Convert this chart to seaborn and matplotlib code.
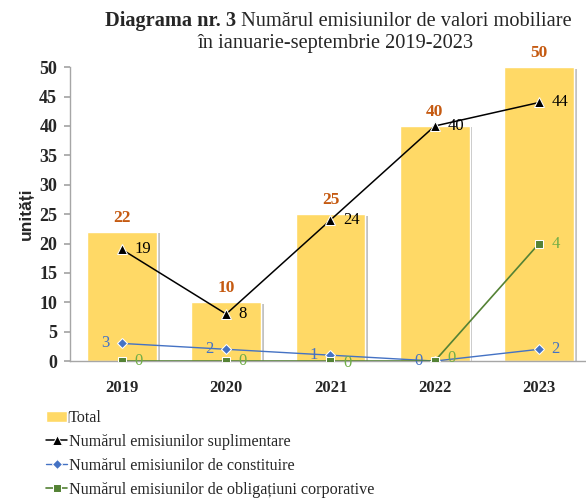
import matplotlib
matplotlib.use("Agg")
import matplotlib.pyplot as plt
import matplotlib.patheffects as pe
import seaborn as sns
import pandas as pd
import numpy as np

years = ["2019", "2020", "2021", "2022", "2023"]
total = [22, 10, 25, 40, 50]
suplimentare = [19, 8, 24, 40, 44]
constituire = [3, 2, 1, 0, 2]
obligatiuni = [0, 0, 0, 0, 4]

sns.set_theme(style="white")
plt.rcParams["font.family"] = ["Liberation Serif", "DejaVu Serif"]

fig = plt.figure(figsize=(5.86, 4.98), dpi=100)
ax = fig.add_axes([0.119, 0.275, 0.881, 0.59])

df = pd.DataFrame({"year": years, "total": total})
sns.barplot(data=df, x="year", y="total", color="#FFD966", saturation=1,
            width=0.67, ax=ax, label="Total", zorder=1)
for p in ax.patches:
    p.set_path_effects([pe.SimplePatchShadow(offset=(2, -1), shadow_rgbFace="#9a9a9a", alpha=0.6), pe.Normal()])

xs = np.arange(len(years))
ld = pd.DataFrame({"x": xs, "sup": suplimentare, "con": constituire, "obl": obligatiuni})
sns.lineplot(data=ld, x="x", y="sup", ax=ax, color="black", marker="^", markersize=7,
             linewidth=1.1, label="Numărul emisiunilor suplimentare", zorder=3)
sns.lineplot(data=ld, x="x", y="con", ax=ax, color="#4472C4", marker="D", markersize=5,
             linewidth=1.0, label="Numărul emisiunilor de constituire", zorder=3)

# corporate bonds drawn on a hidden secondary scale (0-10)
ax2 = ax.twinx()
sns.lineplot(data=ld, x="x", y="obl", ax=ax2, color="#548235", marker="s", markersize=6,
             linewidth=1.2, label="Numărul emisiunilor de obligațiuni corporative", zorder=3)
ax2.set_ylim(0, 10)
ax2.axis("off")

# labels
for i, v in enumerate(total):
    ax.text(i, v + 1.0, str(v), ha="center", va="bottom", color="#C55A11",
            fontsize=12.5, fontweight="bold")
for i, v in enumerate(suplimentare):
    ax.text(i + 0.12, v, str(v), ha="left", va="center", color="black", fontsize=12)
for i, v in enumerate(constituire):
    if i == 4:
        ax.text(i + 0.12, v, str(v), ha="left", va="center", color="#4472C4", fontsize=12)
    else:
        ax.text(i - 0.12, v, str(v), ha="right", va="center", color="#4472C4", fontsize=12)
for i, v in enumerate(obligatiuni):
    dy = 0
    if i == 2:
        dy = -0.06
    if i == 3:
        dy = 0.12
    ax2.text(i + 0.12, v + dy, str(v), ha="left", va="center", color="#70AD47", fontsize=12)

ax.set_xlim(-0.5, 4.45)
ax2.set_xlim(-0.5, 4.45)
ax.set_ylim(0, 50)
ax.set_yticks(range(0, 51, 5))
ax.set_xlabel("")
ax.set_ylabel("unități", fontsize=12.5, fontweight="bold", family="Liberation Sans", labelpad=4)
for s in ["top", "right"]:
    ax.spines[s].set_visible(False)
for s in ["left", "bottom"]:
    ax.spines[s].set_color("#A6A6A6")
    ax.spines[s].set_linewidth(1)
ax.tick_params(axis="y", which="both", left=True, length=4, color="#A6A6A6", labelsize=13, pad=5)
ax.tick_params(axis="x", bottom=False, labelsize=12, pad=8)
for t in ax.get_yticklabels() + ax.get_xticklabels():
    t.set_fontweight("bold")

ax.get_legend().remove()
ax2.get_legend().remove()
h, l = ax.get_legend_handles_labels()
h2, l2 = ax2.get_legend_handles_labels()
h = h + h2
l = l + l2
order = [l.index("Total"), l.index("Numărul emisiunilor suplimentare"),
         l.index("Numărul emisiunilor de constituire"),
         l.index("Numărul emisiunilor de obligațiuni corporative")]
fig.legend([h[k] for k in order], [l[k] for k in order], loc="upper left",
           bbox_to_anchor=(0.068, 0.19), frameon=False, fontsize=11.6,
           handlelength=1.3, handletextpad=0.1, labelspacing=0.5, borderaxespad=0)

# title
fs = 14.7
renderer = fig.canvas.get_renderer()
t1 = fig.text(0.0, 0.957, "Diagrama nr. 3", fontsize=fs, fontweight="bold", ha="left", va="center")
t2 = fig.text(0.0, 0.957, " Numărul emisiunilor de valori mobiliare", fontsize=fs, ha="left", va="center")
w1 = t1.get_window_extent(renderer).width / fig.bbox.width
w2 = t2.get_window_extent(renderer).width / fig.bbox.width
cx = 0.578
start = cx - (w1 + w2) / 2
t1.set_x(start)
t2.set_x(start + w1)
fig.text(0.572, 0.912, "în ianuarie-septembrie 2019-2023", fontsize=fs, ha="center", va="center")

fig.savefig("out.png", dpi=100)
